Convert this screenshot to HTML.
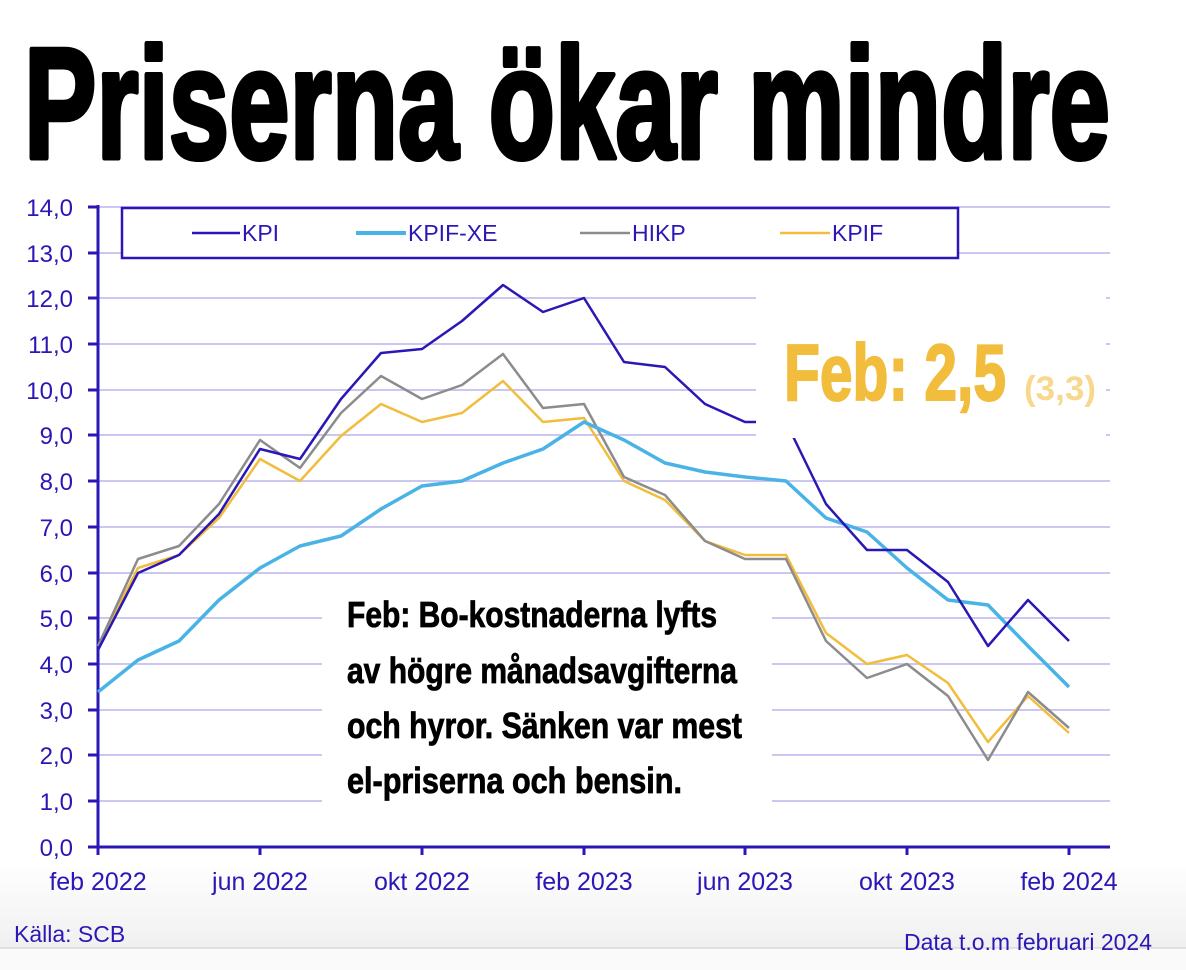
<!DOCTYPE html>
<html><head><meta charset="utf-8"><style>html,body{margin:0;padding:0;background:#fff}svg{display:block}</style></head>
<body>
<svg width="1186" height="970" viewBox="0 0 1186 970" xmlns="http://www.w3.org/2000/svg">
<defs><linearGradient id="bg" x1="0" y1="0" x2="0" y2="1"><stop offset="0" stop-color="#fff"/><stop offset="1" stop-color="#f0f0f0"/></linearGradient></defs>
<rect width="1186" height="970" fill="#fff"/>
<rect x="0" y="860" width="1186" height="88" fill="url(#bg)"/>
<rect x="0" y="948" width="1186" height="22" fill="#fafafa"/>
<line x1="0" y1="948" x2="1186" y2="948" stroke="#ccc"/>
<text x="24" y="158" font-family="Liberation Sans Narrow, Liberation Sans, sans-serif" font-weight="bold" font-size="158" textLength="1086" lengthAdjust="spacingAndGlyphs" fill="#000" stroke="#000" stroke-width="5" stroke-linejoin="round">Priserna ökar mindre</text>
<g stroke="#cbc7f0" stroke-width="2">
<line x1="98" y1="207" x2="1110" y2="207"/><line x1="98" y1="253" x2="1110" y2="253"/><line x1="98" y1="298" x2="1110" y2="298"/><line x1="98" y1="344" x2="1110" y2="344"/><line x1="98" y1="390" x2="1110" y2="390"/><line x1="98" y1="435" x2="1110" y2="435"/><line x1="98" y1="481" x2="1110" y2="481"/><line x1="98" y1="527" x2="1110" y2="527"/><line x1="98" y1="573" x2="1110" y2="573"/><line x1="98" y1="618" x2="1110" y2="618"/><line x1="98" y1="664" x2="1110" y2="664"/><line x1="98" y1="710" x2="1110" y2="710"/><line x1="98" y1="755" x2="1110" y2="755"/><line x1="98" y1="801" x2="1110" y2="801"/>
</g>
<g font-family="Liberation Sans, sans-serif" font-size="24" fill="#2a17b5" text-anchor="end">
<text x="73" y="216">14,0</text><text x="73" y="262">13,0</text><text x="73" y="307">12,0</text><text x="73" y="353">11,0</text><text x="73" y="399">10,0</text><text x="73" y="444">9,0</text><text x="73" y="490">8,0</text><text x="73" y="536">7,0</text><text x="73" y="582">6,0</text><text x="73" y="627">5,0</text><text x="73" y="673">4,0</text><text x="73" y="719">3,0</text><text x="73" y="764">2,0</text><text x="73" y="810">1,0</text><text x="73" y="856">0,0</text>
</g>
<g stroke="#2a17b5" stroke-width="3">
<line x1="98" y1="205" x2="98" y2="848"/><line x1="88" y1="847" x2="1110" y2="847"/>
<line x1="88" y1="207" x2="98" y2="207"/><line x1="88" y1="253" x2="98" y2="253"/><line x1="88" y1="298" x2="98" y2="298"/><line x1="88" y1="344" x2="98" y2="344"/><line x1="88" y1="390" x2="98" y2="390"/><line x1="88" y1="435" x2="98" y2="435"/><line x1="88" y1="481" x2="98" y2="481"/><line x1="88" y1="527" x2="98" y2="527"/><line x1="88" y1="573" x2="98" y2="573"/><line x1="88" y1="618" x2="98" y2="618"/><line x1="88" y1="664" x2="98" y2="664"/><line x1="88" y1="710" x2="98" y2="710"/><line x1="88" y1="755" x2="98" y2="755"/><line x1="88" y1="801" x2="98" y2="801"/>
<line x1="98" y1="847" x2="98" y2="855"/><line x1="260" y1="847" x2="260" y2="855"/><line x1="422" y1="847" x2="422" y2="855"/><line x1="584" y1="847" x2="584" y2="855"/><line x1="745" y1="847" x2="745" y2="855"/><line x1="907" y1="847" x2="907" y2="855"/><line x1="1069" y1="847" x2="1069" y2="855"/>
</g>
<g font-family="Liberation Sans, sans-serif" font-size="25" fill="#2a17b5" text-anchor="middle">
<text x="98" y="890">feb 2022</text><text x="260" y="890">jun 2022</text><text x="422" y="890">okt 2022</text><text x="584" y="890">feb 2023</text><text x="745" y="890">jun 2023</text><text x="907" y="890">okt 2023</text><text x="1069" y="890">feb 2024</text>
</g>
<text x="14" y="942" font-family="Liberation Sans, sans-serif" font-size="23" fill="#2a17b5">Källa: SCB</text>
<text x="1152" y="950" font-family="Liberation Sans, sans-serif" font-size="23" fill="#2a17b5" text-anchor="end">Data t.o.m februari 2024</text>
<g fill="none" stroke-linejoin="round">
<polyline stroke="#f2bd3c" stroke-width="2.5" points="98,646 138,568 179,555 219,518 260,459 300,481 341,436 381,404 422,422 462,413 503,381 543,422 584,418 624,481 665,500 705,541 745,555 786,555 826,633 867,664 907,655 948,683 988,742 1028,696 1069,733"/>
<polyline stroke="#8c8c8c" stroke-width="2.5" points="98,646 138,559 179,546 219,504 260,440 300,468 341,413 381,376 422,399 462,385 503,354 543,408 584,404 624,477 665,495 705,541 745,559 786,559 826,641 867,678 907,664 948,696 988,760 1028,692 1069,728"/>
<polyline stroke="#4ab3e6" stroke-width="3.5" points="98,692 138,660 179,641 219,600 260,568 300,546 341,536 381,509 422,486 462,481 503,463 543,449 584,422 624,440 665,463 705,472 745,477 786,481 826,518 867,532 907,568 948,600 988,605 1028,646 1069,687"/>
<polyline stroke="#2a17b5" stroke-width="2.5" points="98,650 138,573 179,555 219,514 260,449 300,459 341,399 381,353 422,349 462,321 503,285 543,312 584,298 624,362 665,367 705,404 745,422 786,422 826,504 867,550 907,550 948,582 988,646 1028,600 1069,641"/>
</g>
<rect x="122" y="208" width="836" height="50" fill="#fff" stroke="#2a17b5" stroke-width="2.5"/>
<g font-family="Liberation Sans, sans-serif" font-size="23" fill="#2a17b5">
<line x1="192" y1="233" x2="240" y2="233" stroke="#2a17b5" stroke-width="2.5"/><text x="242" y="241">KPI</text>
<line x1="356" y1="233" x2="406" y2="233" stroke="#4ab3e6" stroke-width="4"/><text x="408" y="241">KPIF-XE</text>
<line x1="580" y1="233" x2="630" y2="233" stroke="#8c8c8c" stroke-width="2.5"/><text x="632" y="241">HIKP</text>
<line x1="780" y1="233" x2="830" y2="233" stroke="#f2bd3c" stroke-width="2.5"/><text x="832" y="241">KPIF</text>
</g>
<rect x="756" y="296" width="350" height="142" fill="#fff"/>
<text x="784" y="400" font-family="Liberation Sans Narrow, Liberation Sans, sans-serif" font-weight="bold" font-size="80" textLength="222" lengthAdjust="spacingAndGlyphs" fill="#f2bd3c" stroke="#f2bd3c" stroke-width="2">Feb: 2,5</text>
<text x="1024" y="400" font-family="Liberation Sans Narrow, Liberation Sans, sans-serif" font-weight="bold" font-size="34" textLength="72" lengthAdjust="spacingAndGlyphs" fill="#f7d88e">(3,3)</text>
<rect x="322" y="578" width="450" height="252" fill="#fff"/>
<g font-family="Liberation Sans Narrow, Liberation Sans, sans-serif" font-weight="bold" font-size="36" fill="#000" stroke="#000" stroke-width="0.8">
<text x="347" y="627" textLength="370" lengthAdjust="spacingAndGlyphs">Feb: Bo-kostnaderna lyfts</text>
<text x="347" y="683" textLength="390" lengthAdjust="spacingAndGlyphs">av högre månadsavgifterna</text>
<text x="347" y="738" textLength="395" lengthAdjust="spacingAndGlyphs">och hyror. Sänken var mest</text>
<text x="347" y="793" textLength="335" lengthAdjust="spacingAndGlyphs">el-priserna och bensin.</text>
</g>
</svg>
</body></html>
